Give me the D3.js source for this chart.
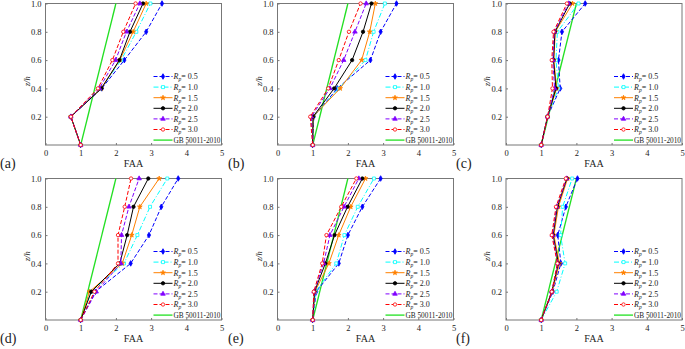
<!DOCTYPE html>
<html>
<head>
<meta charset="utf-8">
<script src="https://cdn.jsdelivr.net/npm/d3@7"></script>
<style>
  body { margin: 0; background: #fff; }
  svg { display: block; }
  svg text { font-family: "Liberation Serif", "Times New Roman", Times, serif; fill: #222; }
</style>
</head>
<body>
<div id="chart"></div>
<script>
// heights where FAA was measured
var zLevels = [0, 0.2, 0.4, 0.6, 0.8, 1.0];
var seriesNames = ["0.5", "1.0", "1.5", "2.0", "2.5", "3.0"];
var xTicks = [0, 1, 2, 3, 4, 5];
var yTicks = [0.2, 0.4, 0.6, 0.8, 1.0];
var panelLabels = ["(a)", "(b)", "(c)", "(d)", "(e)", "(f)"];

// code line GB 50011-2010
var gbZ = [0, 1.0];
var gbFAA = [1, 2];

// FAA per series (Rp = 0.5 ... 3.0), one value per z level
var faaA = [
  [1, 0.72, 1.60, 2.24, 2.86, 3.31],
  [1, 0.72, 1.58, 2.15, 2.58, 2.98],
  [1, 0.72, 1.58, 2.11, 2.49, 2.86],
  [1, 0.72, 1.59, 2.10, 2.40, 2.77],
  [1, 0.72, 1.53, 1.99, 2.30, 2.68],
  [1, 0.72, 1.49, 1.90, 2.21, 2.56]
];
var faaB = [
  [1, 1.03, 1.70, 2.64, 2.93, 3.38],
  [1, 1.02, 1.74, 2.50, 2.73, 3.05],
  [1, 1.01, 1.78, 2.39, 2.62, 2.78],
  [1, 1.01, 1.61, 2.12, 2.43, 2.67],
  [1, 0.96, 1.49, 1.88, 2.20, 2.52],
  [1, 0.93, 1.44, 1.74, 2.03, 2.36]
];
var faaC = [
  [1, 1.18, 1.54, 1.49, 1.59, 2.25],
  [1, 1.18, 1.49, 1.42, 1.46, 2.06],
  [1, 1.18, 1.44, 1.36, 1.40, 1.89],
  [1, 1.18, 1.42, 1.35, 1.39, 1.81],
  [1, 1.18, 1.38, 1.33, 1.37, 1.78],
  [1, 1.18, 1.32, 1.30, 1.35, 1.73]
];
var faaD = [
  [1, 1.42, 2.42, 2.94, 3.29, 3.77],
  [1, 1.30, 2.23, 2.61, 2.97, 3.46],
  [1, 1.25, 2.18, 2.45, 2.68, 3.23],
  [1, 1.30, 2.11, 2.32, 2.50, 2.92],
  [1, 1.44, 2.14, 2.16, 2.37, 2.66],
  [1, 1.39, 2.06, 2.06, 2.25, 2.43]
];
var faaE = [
  [1, 1.10, 1.74, 2.00, 2.41, 2.93],
  [1, 1.08, 1.67, 1.90, 2.28, 2.74],
  [1, 1.06, 1.46, 1.74, 2.08, 2.50],
  [1, 1.05, 1.36, 1.62, 1.99, 2.41],
  [1, 1.04, 1.31, 1.49, 1.89, 2.31],
  [1, 1.03, 1.27, 1.39, 1.81, 2.24]
];
var faaF = [
  [1, 1.33, 1.56, 1.47, 1.70, 2.03],
  [1, 1.44, 1.68, 1.55, 1.61, 1.88],
  [1, 1.31, 1.52, 1.36, 1.49, 1.75],
  [1, 1.30, 1.49, 1.34, 1.46, 1.73],
  [1, 1.30, 1.47, 1.32, 1.44, 1.72],
  [1, 1.30, 1.46, 1.30, 1.42, 1.70]
];
var panelData = [faaA, faaB, faaC, faaD, faaE, faaF];

var styles = [
  {color: "#0000ff", dash: "4,2", marker: "diamond", fill: true},
  {color: "#00ffff", dash: "5,2,1,2", marker: "square", fill: false},
  {color: "#ff8000", dash: null, marker: "star", fill: true},
  {color: "#000000", dash: null, marker: "circle", fill: true},
  {color: "#8000ff", dash: "4,2", marker: "triangle", fill: true},
  {color: "#ff0000", dash: "4,2", marker: "circle", fill: false}
];
var gbColor = "#22e022";

var width = 685, height = 349;
var pw = 176, ph = 141.5;
var lefts = [45.5, 277.5, 506];
var tops = [3.5, 178.5];

var svg = d3.select("#chart").append("svg")
  .attr("width", width)
  .attr("height", height);

var symbolTypes = {
  diamond: d3.symbolDiamond,
  square: d3.symbolSquare,
  star: d3.symbolStar,
  circle: d3.symbolCircle,
  triangle: d3.symbolTriangle
};

function drawMarker(g, st, cx, cy) {
  g.append("path")
    .attr("d", d3.symbol().type(symbolTypes[st.marker]).size(st.marker == "star" ? 7 : 9)())
    .attr("transform", "translate(" + cx + "," + cy + ")")
    .attr("fill", st.fill ? st.color : "#fff")
    .attr("stroke", st.color)
    .attr("stroke-width", 0.8);
}

panelData.forEach(function(data, p) {
  var col = p % 3, row = Math.floor(p / 3);
  var g = svg.append("g")
    .attr("transform", "translate(" + lefts[col] + "," + tops[row] + ")");

  var x = d3.scaleLinear().domain([0, 5]).range([0, pw]);
  var y = d3.scaleLinear().domain([0, 1]).range([ph, 0]);

  // x axis
  var xa = g.append("g")
    .attr("transform", "translate(0," + ph + ")")
    .call(d3.axisBottom(x).tickValues(xTicks).tickSize(-2).tickPadding(5).tickFormat(d3.format("d")));
  xa.select(".domain").remove();
  xa.selectAll("line").attr("stroke", "#777");
  xa.selectAll("text").style("font-size", "8.5px").attr("fill", "#222");

  // y axis
  var ya = g.append("g")
    .call(d3.axisLeft(y).tickValues(yTicks).tickSize(-2).tickPadding(4).tickFormat(d3.format(".1f")));
  ya.select(".domain").remove();
  ya.selectAll("line").attr("stroke", "#777");
  ya.selectAll("text").style("font-size", "8.5px").attr("fill", "#222");

  // frame
  g.append("rect")
    .attr("width", pw)
    .attr("height", ph)
    .attr("fill", "none")
    .attr("stroke", "#777")
    .attr("stroke-width", 1);

  g.append("text")
    .attr("x", pw / 2)
    .attr("y", ph + 22)
    .attr("text-anchor", "middle")
    .style("font-size", "10px")
    .text("FAA");

  g.append("text")
    .attr("transform", "translate(-16," + y(0.45) + ") rotate(-90)")
    .attr("text-anchor", "middle")
    .style("font-size", "8.5px")
    .style("font-style", "italic")
    .text("z/h");

  svg.append("text")
    .attr("x", col * 228)
    .attr("y", tops[row] + ph + 23)
    .style("font-size", "14px")
    .text(panelLabels[p]);

  var line = d3.line()
    .x(function(d) { return x(d[0]); })
    .y(function(d) { return y(d[1]); });

  // code line
  g.append("path")
    .datum(d3.zip(gbFAA, gbZ))
    .attr("fill", "none")
    .attr("stroke", gbColor)
    .attr("stroke-width", 1.3)
    .attr("d", line);

  data.forEach(function(vals, i) {
    var st = styles[i];
    var pts = d3.zip(vals, zLevels);
    g.append("path")
      .datum(pts)
      .attr("fill", "none")
      .attr("stroke", st.color)
      .attr("stroke-width", 1)
      .attr("stroke-dasharray", st.dash)
      .attr("d", line);
    pts.forEach(function(d) {
      drawMarker(g, st, x(d[0]), y(d[1]));
    });
  });

  // legend
  var lg = g.append("g").attr("transform", "translate(108," + 73 + ")");
  seriesNames.forEach(function(name, i) {
    var st = styles[i];
    var yy = i * 10.6;
    lg.append("line")
      .attr("x1", 0).attr("x2", 19)
      .attr("y1", yy).attr("y2", yy)
      .attr("stroke", st.color)
      .attr("stroke-width", 1)
      .attr("stroke-dasharray", st.dash);
    drawMarker(lg, st, 9.5, yy);
    var t = lg.append("text")
      .attr("x", 20)
      .attr("y", yy + 2.8)
      .style("font-size", "8px");
    t.append("tspan").style("font-style", "italic").text("R");
    t.append("tspan").attr("dy", 2).style("font-size", "5.5px").style("font-style", "italic").text("p");
    t.append("tspan").attr("dy", -2).text("= " + name);
  });
  var gy = 6 * 10.6;
  lg.append("line")
    .attr("x1", 0).attr("x2", 19)
    .attr("y1", gy).attr("y2", gy)
    .attr("stroke", gbColor)
    .attr("stroke-width", 1.3);
  lg.append("text")
    .attr("x", 20)
    .attr("y", gy + 2.8)
    .style("font-size", "8px")
    .attr("textLength", 47)
    .attr("lengthAdjust", "spacingAndGlyphs")
    .text("GB 50011-2010");
});
</script>
</body>
</html>
